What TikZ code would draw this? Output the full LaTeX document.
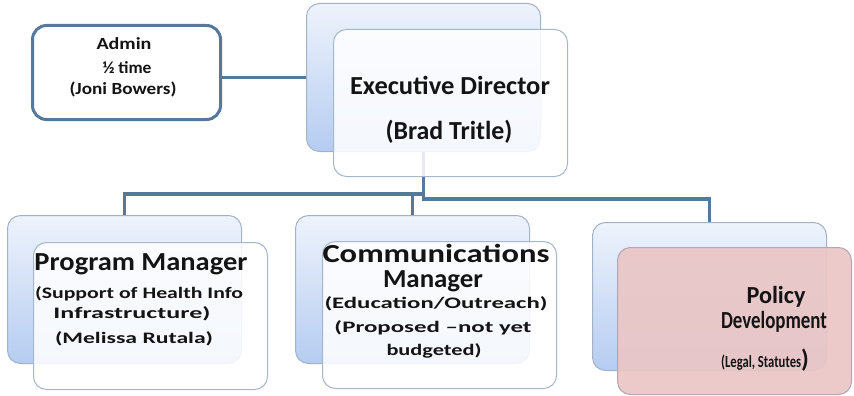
\documentclass[tikz,border=0pt]{standalone}
\usepackage{fontspec}
\setmainfont{Carlito}
\definecolor{linkblue}{HTML}{56789B}
\definecolor{backtop}{HTML}{EEF3FC}
\definecolor{backbot}{HTML}{B5CCF1}
\definecolor{backedge}{HTML}{A3B3C7}
\definecolor{frontedge}{HTML}{A7B7CA}
\definecolor{policyfill}{HTML}{EBC6C6}
\definecolor{policyedge}{HTML}{B0A6B4}
\newcommand\fsAdmin{\fontsize{17}{20}\selectfont\bfseries}
\newcommand\fsHead{\fontsize{26}{30}\selectfont\bfseries}
\newcommand\fsPol{\fontsize{24.5}{28}\selectfont\bfseries}
\newcommand\fsSub{\fontsize{16}{19}\selectfont\bfseries}
\newcommand\fsPolSub{\fontsize{17}{20}\selectfont\bfseries}
% stretch a line of text to a given width, keeping its height
\newcommand\fitw[2]{\resizebox{#1}{\height}{#2}}
\tikzset{
  backbox/.style={draw=backedge, line width=1pt, rounded corners=13pt,
    top color=backtop, bottom color=backbot,
    minimum width=234pt, minimum height=148pt, inner sep=0pt, anchor=north west},
  frontbox/.style={draw=frontedge, line width=1pt, rounded corners=13pt,
    fill=white, fill opacity=0.86,
    minimum width=234pt, minimum height=147pt, inner sep=0pt, anchor=north west},
  adminbox/.style={draw=linkblue, line width=3pt, rounded corners=14pt, fill=white,
    minimum width=188pt, minimum height=94pt, inner sep=0pt, anchor=north west},
  link/.style={draw=linkblue, line width=3.3pt},
  txtline/.style={anchor=base, inner sep=0pt, text=black!92},
}
\begin{document}
\begin{tikzpicture}[x=1pt, y=-1pt]
\fill[white] (0,0) rectangle (854,396);
\useasboundingbox (0,0) rectangle (854,396);

% back cards
\node[backbox] (execB) at (306,3) {};
\node[backbox] (progB) at (7,215) {};
\node[backbox] (commB) at (295,215) {};
\node[backbox] (polB) at (592,222) {};

% admin card and connectors
\node[adminbox] (admin) at (31,24) {};
\draw[link] (execB.west) -- (execB.west -| admin.east);
\draw[link] (execB.south) -- ++(0,42) -| (progB.north);
\draw[link] (execB.south) -- ++(0,42) -| (commB.north);
\draw[link] (execB.south) -- ++(0,47) -| (polB.north);

% front cards
\node[frontbox] (execF) at (333,29) {};
\node[frontbox] (progF) at (33,242) {};
\node[frontbox] (commF) at (322,241) {};
\node[frontbox, fill=policyfill, draw=policyedge, fill opacity=0.92] (polF) at (617,247) {};

% admin text
\node[txtline, font=\fsAdmin] (adm1) at (124,50) {\fitw{55pt}{Admin}};
\node[txtline, font=\fsAdmin] (adm2) at (127,74) {\fitw{49pt}{½ time}};
\node[txtline, font=\fsAdmin] (adm3) at (123,95) {\fitw{107pt}{(Joni Bowers)}};

% executive director text
\node[txtline, font=\fsHead] (ex1) at (450,95) {\fitw{200pt}{Executive Director}};
\node[txtline, font=\fsHead] (ex2) at (449,139) {\fitw{127pt}{(Brad Tritle)}};

% program manager text
\node[txtline, font=\fsHead] (pm1) at (141,270) {\fitw{213pt}{Program Manager}};
\node[txtline, font=\fsSub] (pm2) at (139,298) {\fitw{208pt}{(Support of Health Info}};
\node[txtline, font=\fsSub] (pm3) at (132,318) {\fitw{157pt}{Infrastructure)}};
\node[txtline, font=\fsSub] (pm4) at (134,343) {\fitw{158pt}{(Melissa Rutala)}};

% communications manager text
\node[txtline, font=\fsHead] (cm1) at (436,262) {\fitw{227pt}{Communications}};
\node[txtline, font=\fsHead] (cm2) at (433,287) {\fitw{100pt}{Manager}};
\node[txtline, font=\fsSub] (cm3) at (436,308) {\fitw{223pt}{(Education/Outreach)}};
\node[txtline, font=\fsSub] (cm4) at (433,332) {\fitw{197pt}{(Proposed –not yet}};
\node[txtline, font=\fsSub] (cm5) at (434,355) {\fitw{95pt}{budgeted)}};

% policy development text
\node[txtline, font=\fsPol] (pd1) at (776,303) {\fitw{59pt}{Policy}};
\node[txtline, font=\fsPol] (pd2) at (774,328) {\fitw{106pt}{Development}};
\node[txtline, font=\fsPolSub] (pd3) at (765,367) {\fitw{80pt}{(Legal, Statutes}{\fontsize{25}{25}\selectfont )}};
\end{tikzpicture}
\end{document}
